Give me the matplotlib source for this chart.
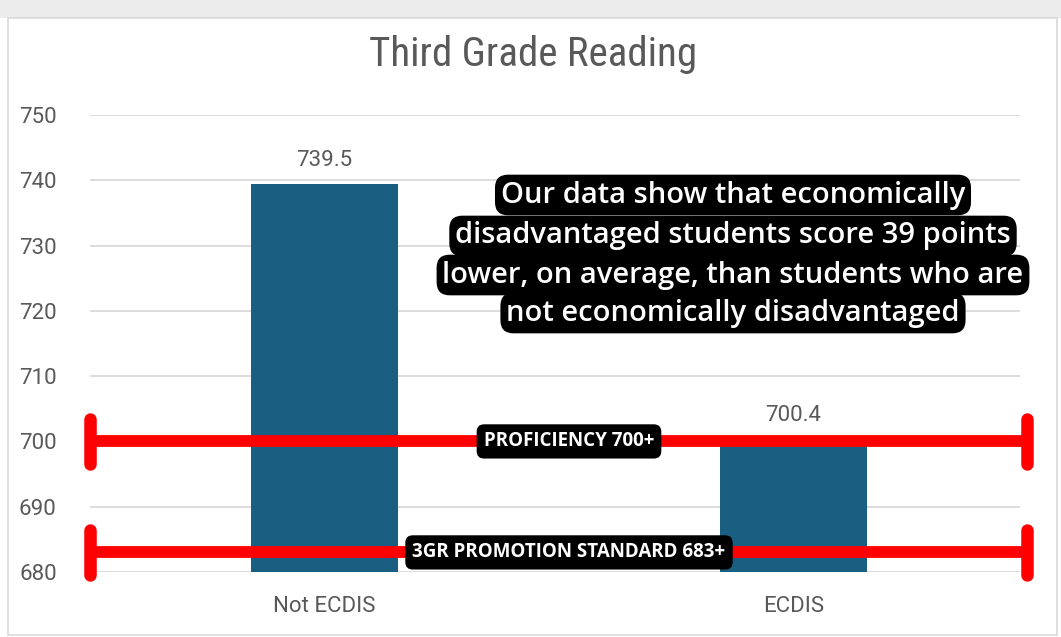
import matplotlib
matplotlib.use("Agg")
import matplotlib.pyplot as plt
from matplotlib.patches import Rectangle
from matplotlib import font_manager

categories = ["Not ECDIS", "ECDIS"]
values = [739.5, 700.4]
value_labels = ["739.5", "700.4"]
yticks = [680, 690, 700, 710, 720, 730, 740, 750]
thresholds = [700, 683]
threshold_labels = ["PROFICIENCY 700+", "3GR PROMOTION STANDARD 683+"]
title = "Third Grade Reading"
note_lines = [
    "Our data show that economically",
    "disadvantaged students score 39 points",
    "lower, on average, than students who are",
    "not economically disadvantaged",
]

names = {f.name for f in font_manager.fontManager.ttflist}
narrow = None
for cand in ["Liberation Sans Narrow", "DejaVu Sans Condensed", "Roboto Condensed", "Open Sans Condensed"]:
    if cand in names:
        narrow = cand
        break

W, H = 1061, 637
fig = plt.figure(figsize=(W / 100, H / 100), dpi=100)
fig.patch.set_facecolor("white")

# screenshot frame
fig.patches.append(Rectangle((0, 1 - 18 / H), 1, 18 / H, transform=fig.transFigure,
                             facecolor="#ececec", edgecolor="none", zorder=0))
fig.patches.append(Rectangle((8 / W, 2 / H), (1057 - 8) / W, (619 - 2) / H, transform=fig.transFigure,
                             facecolor="none", edgecolor="#d9d9d9", lw=1.2, zorder=0))

ax = fig.add_axes([90 / W, 1 - 572 / H, (1020 - 90) / W, (572 - 115) / H])
ax.set_facecolor("none")
x = list(range(len(categories)))
ax.bar(x, values, width=0.313, color="#1a5f81", zorder=2)
ax.set_xlim(-0.5, 1.483)
ax.set_ylim(680, 750)
ax.set_yticks(yticks)
ax.set_yticklabels([str(t) for t in yticks], fontsize=16, color="#595959", family="Roboto")
ax.set_xticks(x)
ax.set_xticklabels(categories, fontsize=16, color="#595959", family="Roboto")
ax.tick_params(axis="y", length=0, pad=24)
ax.tick_params(axis="x", length=0, pad=17)
for s in ax.spines.values():
    s.set_visible(False)
ax.yaxis.grid(True, color="#d9d9d9", lw=1.3, zorder=0)
ax.set_axisbelow(True)

for xi, v, lab in zip(x, values, value_labels):
    ax.annotate(lab, (xi, v), xytext=(0, 9), textcoords="offset points", ha="center", va="bottom",
                fontsize=16, color="#595959", family="Roboto")

if narrow:
    fig.text(533 / W, 1 - 55 / H, title, ha="center", va="center", fontsize=29.5,
             color="#595959", family=narrow)
else:
    fig.text(533 / W, 1 - 55 / H, title, ha="center", va="center", fontsize=29.5,
             color="#595959", family="DejaVu Sans", stretch="condensed")

# threshold lines with end caps
x_left, x_right = -0.5, -0.5 + (1027 - 90) / 469
x_lab = -0.5 + (569 - 90) / 469
for t, lab in zip(thresholds, threshold_labels):
    ax.plot([x_left, x_right], [t, t], color="#ff0000", lw=8.5, solid_capstyle="butt", zorder=4, clip_on=False)
    for xc in (x_left, x_right):
        ax.plot([xc, xc], [t - 3.5, t + 3.5], color="#ff0000", lw=9, solid_capstyle="round",
                zorder=4, clip_on=False)
    ax.text(x_lab, t, lab, ha="center", va="center", fontsize=13.5, color="white", weight="bold",
            family="Open Sans", zorder=6,
            bbox=dict(boxstyle="round,pad=0.38,rounding_size=0.4", facecolor="black", edgecolor="none"))

# note box lines
ys = [195, 236, 275, 313]
for line, yy in zip(note_lines, ys):
    fig.text(733 / W, 1 - yy / H, line, ha="center", va="center", fontsize=21, color="white",
             family="Open Sans", weight="semibold", zorder=6,
             bbox=dict(boxstyle="round,pad=0.2,rounding_size=0.45", facecolor="black", edgecolor="none"))

fig.savefig("out.png", dpi=100, facecolor="white")
